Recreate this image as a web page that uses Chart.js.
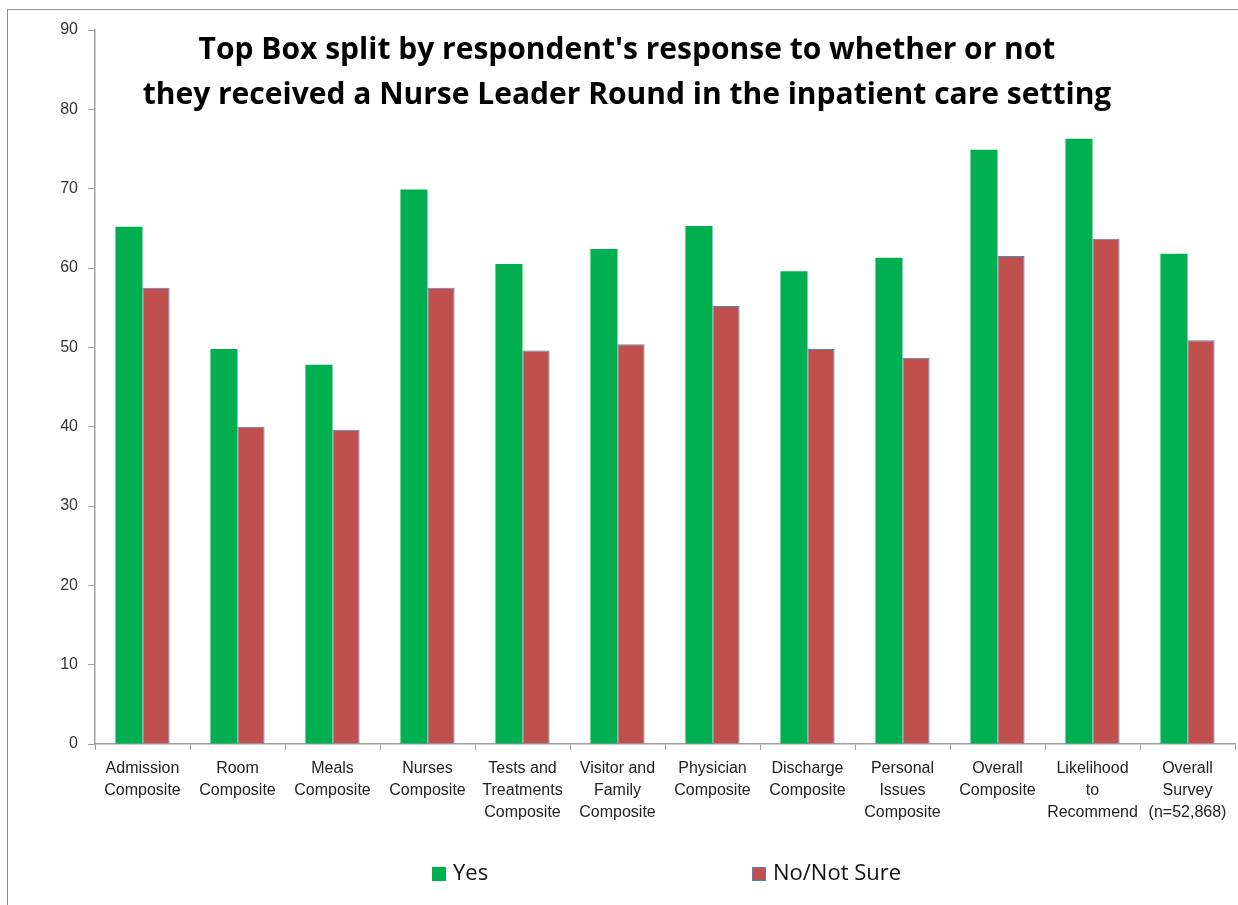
<!DOCTYPE html>
<html>
<head>
<meta charset="utf-8">
<script src="https://cdn.jsdelivr.net/npm/chart.js@4"></script>
<style>
  body { margin: 0; background: #fff; }
  #wrap { position: relative; width: 1238px; height: 905px; overflow: hidden; }
  #frame { position: absolute; left: 7px; top: 9px; width: 1300px; height: 1000px;
           border-top: 1.5px solid #8c8c8c; border-left: 1.5px solid #8c8c8c; }
  #title { position: absolute; left: 0; top: 25px; width: 1254px; text-align: center;
           font: bold 30px "Open Sans", sans-serif; line-height: 45px; color: #000; }
  .leg { position: absolute; top: 857px; font: 22px "Open Sans", sans-serif; color: #111;
         line-height: 28px; white-space: nowrap; }
  .leg span { display: inline-block; width: 14px; height: 14px; vertical-align: -1px; margin-right: 7px; box-sizing: border-box; }
</style>
</head>
<body>
<div id="wrap">
  <div id="frame"></div>
  <canvas id="chart" width="1238" height="905"></canvas>
  <div id="title">Top Box split by respondent's response to whether or not<br>they received a Nurse Leader Round in the inpatient care setting</div>
  <div class="leg" style="left:432px"><span style="background:#00B050"></span>Yes</div>
  <div class="leg" style="left:752px"><span style="background:#C0504D;border:1px solid #4F81BD"></span>No/Not Sure</div>
</div>
<script>
// Catégories et valeurs
const categories = [
    ['Admission', 'Composite'],
    ['Room', 'Composite'],
    ['Meals', 'Composite'],
    ['Nurses', 'Composite'],
    ['Tests and', 'Treatments', 'Composite'],
    ['Visitor and', 'Family', 'Composite'],
    ['Physician', 'Composite'],
    ['Discharge', 'Composite'],
    ['Personal', 'Issues', 'Composite'],
    ['Overall', 'Composite'],
    ['Likelihood', 'to', 'Recommend'],
    ['Overall', 'Survey', '(n=52,868)']
];
const yesValues = [65.2, 49.8, 47.8, 69.9, 60.5, 62.4, 65.3, 59.6, 61.3, 74.9, 76.3, 61.8];
const noValues = [57.5, 40.0, 39.6, 57.5, 49.6, 50.4, 55.2, 49.8, 48.7, 61.5, 63.7, 50.9];
const yTicks = [0, 10, 20, 30, 40, 50, 60, 70, 80, 90];

const ctx = document.getElementById('chart').getContext('2d');
new Chart(ctx, {
    type: 'bar',
    data: {
        labels: categories,
        datasets: [{
            label: 'Yes',
            data: yesValues,
            backgroundColor: '#00B050',
            borderWidth: 0,
            categoryPercentage: 0.57,
            barPercentage: 1.0
        }, {
            label: 'No/Not Sure',
            data: noValues,
            backgroundColor: '#C0504D',
            borderColor: '#4F81BD',
            borderWidth: 1,
            categoryPercentage: 0.57,
            barPercentage: 1.0
        }]
    },
    options: {
        responsive: false,
        animation: false,
        layout: { padding: { top: 30, right: 3, left: 0, bottom: 0 } },
        plugins: {
            legend: { display: false },
            title: { display: false },
            tooltip: { enabled: false }
        },
        scales: {
            x: {
                afterFit: scale => { scale.height = 161; },
                grid: { drawOnChartArea: false, tickLength: 6, color: '#a0a0a0', offset: true },
                border: { color: '#a0a0a0', width: 1.5 },
                ticks: {
                    color: '#222',
                    padding: 8,
                    maxRotation: 0,
                    autoSkip: false,
                    font: { family: 'Liberation Sans', size: 16, lineHeight: 1.375 }
                }
            },
            y: {
                min: 0,
                max: 90,
                afterFit: scale => { scale.width = 95; },
                afterBuildTicks: scale => { scale.ticks = yTicks.map(v => ({ value: v })); },
                grid: { drawOnChartArea: false, tickLength: 7, color: '#a0a0a0' },
                border: { color: '#a0a0a0', width: 1.5 },
                ticks: {
                    color: '#333',
                    padding: 10,
                    font: { family: 'Liberation Sans', size: 16 }
                }
            }
        }
    }
});
</script>
</body>
</html>
